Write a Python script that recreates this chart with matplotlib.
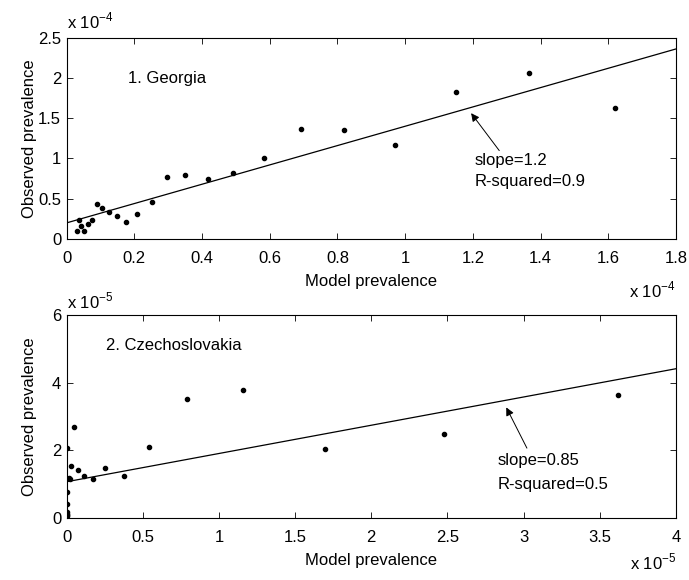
import matplotlib
matplotlib.use('Agg')
import matplotlib.pyplot as plt
import numpy as np

plt.rcParams['font.family'] = ['Liberation Sans', 'DejaVu Sans']
plt.rcParams['font.size'] = 12
plt.rcParams['mathtext.fontset'] = 'custom'
plt.rcParams['mathtext.rm'] = 'Liberation Sans'

# 1. Georgia  (x in 1e-4, y in 1e-4)
geo_model = [0.03, 0.037, 0.042, 0.051, 0.063, 0.076, 0.089, 0.105, 0.126, 0.150,
             0.176, 0.208, 0.251, 0.297, 0.350, 0.417, 0.491, 0.582, 0.691, 0.820,
             0.969, 1.149, 1.366, 1.620]
geo_obs = [0.10, 0.24, 0.16, 0.10, 0.19, 0.24, 0.43, 0.38, 0.33, 0.28,
           0.21, 0.31, 0.46, 0.77, 0.79, 0.74, 0.82, 1.00, 1.37, 1.35,
           1.17, 1.82, 2.06, 1.63]
geo_fit = (0.2, 1.2)   # intercept, slope

# 2. Czechoslovakia  (x in 1e-5, y in 1e-5)
cz_model = [0.0, 0.0, 0.0, 0.0, 0.0, 0.0, 0.0, 0.013, 0.02, 0.028, 0.048,
            0.076, 0.116, 0.17, 0.253, 0.374, 0.54, 0.79, 1.158, 1.696,
            2.475, 3.62]
cz_obs = [2.08, 0.78, 0.41, 0.17, 0.12, 0.09, 0.05, 1.17, 1.15, 1.53, 2.69,
          1.41, 1.24, 1.15, 1.49, 1.23, 2.11, 3.53, 3.78, 2.03,
          2.49, 3.62]
cz_fit = (1.07, 0.835)

fig = plt.figure(figsize=(6.89, 5.80), dpi=100)
ax1 = fig.add_axes([0.0968, 0.588, 0.8842, 0.347])
ax2 = fig.add_axes([0.0968, 0.107, 0.8842, 0.350])


def style(ax):
    ax.tick_params(direction='in', top=True, right=True, length=4, width=0.6)
    ax.tick_params(axis='x', pad=8.5)
    ax.tick_params(axis='y', pad=4)
    ax.xaxis.labelpad = 6
    ax.yaxis.set_label_coords(-0.048, 0.5)
    for s in ax.spines.values():
        s.set_linewidth(0.8)


# top panel
ax1.plot(geo_model, geo_obs, 'k.', ms=6)
xx = np.array([0, 1.8])
ax1.plot(xx, geo_fit[0] + geo_fit[1] * xx, 'k-', lw=0.9)
ax1.set_xlim(0, 1.8)
ax1.set_ylim(0, 2.5)
ax1.set_xticks(np.arange(0, 1.81, 0.2))
ax1.set_xticklabels(['0', '0.2', '0.4', '0.6', '0.8', '1', '1.2', '1.4', '1.6', '1.8'])
ax1.set_yticks([0, 0.5, 1, 1.5, 2, 2.5])
ax1.set_yticklabels(['0', '0.5', '1', '1.5', '2', '2.5'])
ax1.set_xlabel('Model prevalence')
ax1.set_ylabel('Observed prevalence')
ax1.text(0.18, 1.99, '1. Georgia', va='center', ha='left')
ax1.annotate('', xy=(1.19, 1.59), xytext=(1.283, 1.07),
             arrowprops=dict(arrowstyle='-|>', color='k', lw=0.7, mutation_scale=12))
ax1.text(1.204, 0.975, 'slope=1.2', va='center', ha='left')
ax1.text(1.204, 0.716, 'R-squared=0.9', va='center', ha='left')
ax1.text(0.0, 1.03, r'x 10$^{\mathregular{-4}}$', transform=ax1.transAxes, ha='left', va='bottom')
ax1.text(1.0, -0.255, r'x 10$^{\mathregular{-4}}$', transform=ax1.transAxes, ha='right', va='center')
style(ax1)

# bottom panel
ax2.plot(cz_model, cz_obs, 'k.', ms=6)
xx = np.array([0, 4])
ax2.plot(xx, cz_fit[0] + cz_fit[1] * xx, 'k-', lw=0.9)
ax2.set_xlim(0, 4)
ax2.set_ylim(0, 6)
ax2.set_xticks(np.arange(0, 4.01, 0.5))
ax2.set_xticklabels(['0', '0.5', '1', '1.5', '2', '2.5', '3', '3.5', '4'])
ax2.set_yticks([0, 2, 4, 6])
ax2.set_yticklabels(['0', '2', '4', '6'])
ax2.set_xlabel('Model prevalence')
ax2.set_ylabel('Observed prevalence')
ax2.text(0.258, 5.1, '2. Czechoslovakia', va='center', ha='left')
ax2.annotate('', xy=(2.878, 3.34), xytext=(3.03, 1.99),
             arrowprops=dict(arrowstyle='-|>', color='k', lw=0.7, mutation_scale=12))
ax2.text(2.83, 1.69, 'slope=0.85', va='center', ha='left')
ax2.text(2.83, 1.0, 'R-squared=0.5', va='center', ha='left')
ax2.text(0.0, 1.015, r'x 10$^{\mathregular{-5}}$', transform=ax2.transAxes, ha='left', va='bottom')
ax2.text(1.0, -0.217, r'x 10$^{\mathregular{-5}}$', transform=ax2.transAxes, ha='right', va='center')
style(ax2)

fig.savefig('out.png', dpi=100)
